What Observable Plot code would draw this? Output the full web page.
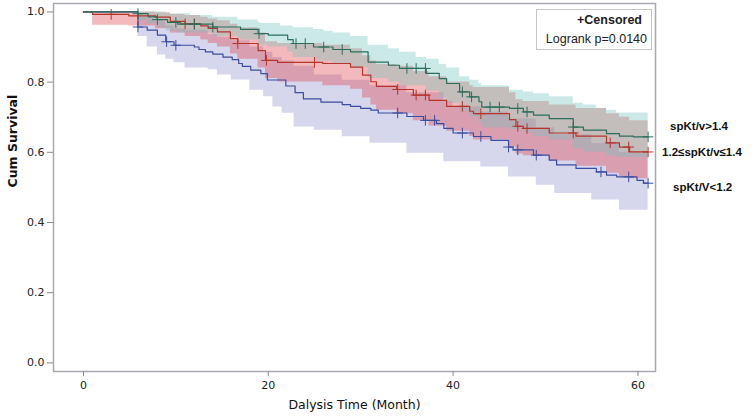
<!DOCTYPE html>
<html>
<head>
<meta charset="utf-8">
<script src="https://cdn.jsdelivr.net/npm/d3@7"></script>
<script src="https://cdn.jsdelivr.net/npm/@observablehq/plot@0.6"></script>
<style>
  body { margin: 0; background: #fff; }
  #chart { position: relative; width: 752px; height: 418px; }
  #legend {
    position: absolute; left: 536px; top: 9px; width: 114px; height: 39px;
    border: 1px solid #c6c6c6; background: #fff;
    font-family: "Liberation Sans", Arial, sans-serif; color: #222;
  }
  #legend .l1 { position: absolute; right: 9px; top: 3px; font-size: 12.5px; font-weight: bold; }
  #legend .l2 { position: absolute; right: 4px; top: 22px; font-size: 12.5px; }
</style>
</head>
<body>
<div id="chart"><div id="legend"><span class="l1">+Censored</span><span class="l2">Logrank p=0.0140</span></div></div>
<script>
// Kaplan-Meier steps: [month, survival]
const grSurv = [[0,1],[5.9,0.995],[7,0.986],[8,0.978],[9.1,0.97],[10.2,0.965],[14,0.957],[17,0.95],[18.9,0.938],[20,0.934],
  [22.1,0.921],[22.7,0.91],[24.9,0.9],[27,0.893],[28.9,0.886],[30.8,0.857],[33,0.848],[34.2,0.839],[37.1,0.825],[38.5,0.81],
  [39.3,0.796],[40.7,0.772],[41.8,0.758],[42.8,0.744],[43.1,0.729],[46.1,0.725],[47.6,0.715],[48.7,0.706],[50.4,0.696],
  [53,0.672],[54.1,0.663],[56.6,0.653],[58,0.646],[59.5,0.644],[61.1,0.644]];
const rdSurv = [[0,1],[1,0.993],[4.9,0.989],[7.8,0.985],[9.4,0.973],[11,0.966],[12.7,0.96],[13.5,0.953],[14.5,0.943],
  [15.9,0.924],[16.7,0.91],[18.9,0.89],[19.7,0.862],[21,0.856],[25.9,0.853],[28.9,0.843],[30.2,0.82],[31.1,0.801],
  [31.7,0.788],[33.9,0.779],[35.7,0.763],[37.4,0.748],[39.3,0.731],[41.8,0.717],[42.2,0.71],[46.1,0.693],[46.8,0.674],
  [47.6,0.668],[50.4,0.655],[53.3,0.646],[56.6,0.627],[58,0.615],[59.1,0.601],[61.1,0.601]];
const blSurv = [[0,1],[5.9,0.957],[6.9,0.948],[8,0.934],[8.9,0.915],[9.8,0.905],[12,0.9],[12.5,0.893],[13.2,0.886],
  [14,0.88],[15.1,0.871],[16.1,0.864],[16.8,0.853],[17.2,0.845],[18.1,0.834],[19.2,0.824],[19.9,0.806],[21.9,0.789],
  [22.9,0.77],[23.8,0.752],[25.7,0.743],[28,0.736],[28.9,0.731],[30,0.725],[31.1,0.72],[31.9,0.712],[35,0.702],
  [36.8,0.691],[38.2,0.682],[39,0.668],[40,0.655],[42.2,0.645],[44.1,0.634],[46,0.615],[46.5,0.607],[48.7,0.592],
  [50.4,0.578],[51.2,0.564],[53.3,0.554],[55.5,0.544],[56.6,0.535],[57.7,0.53],[59.9,0.52],[60.6,0.512],[61.1,0.512]];

// confidence bands: [month, lower, upper]
const grBand = [[5.9,0.975,1],[7,0.965,1],[8,0.955,1],[9,0.945,0.995],[10.2,0.94,0.995],[11.6,0.94,0.99],[14,0.93,0.985],
  [16.7,0.925,0.977],[17,0.92,0.977],[18.9,0.905,0.97],[19.2,0.905,0.967],[20,0.9,0.967],[21.3,0.9,0.96],[22.1,0.885,0.96],
  [22.7,0.87,0.955],[24.9,0.86,0.95],[26,0.86,0.945],[27,0.85,0.94],[28.9,0.84,0.93],[30.8,0.81,0.905],[33,0.8,0.895],
  [34.2,0.79,0.885],[36,0.79,0.87],[37.1,0.775,0.865],[38.5,0.755,0.85],[39.3,0.74,0.84],[40.7,0.715,0.815],
  [41.8,0.7,0.805],[42.8,0.685,0.795],[43.1,0.67,0.79],[46.1,0.665,0.777],[47.6,0.655,0.772],[48.7,0.645,0.767],
  [50.4,0.635,0.758],[53,0.61,0.74],[54.1,0.6,0.735],[55.5,0.6,0.725],[56.6,0.59,0.72],[57.7,0.585,0.712],[61.1,0.585,0.711]];
const rdBand = [[1,0.962,1],[4.9,0.96,1],[7.8,0.952,0.998],[9.4,0.94,0.993],[11,0.93,0.99],[12.7,0.92,0.985],[13.5,0.91,0.98],
  [14.5,0.9,0.975],[15.9,0.88,0.965],[16.7,0.865,0.955],[18.9,0.84,0.94],[19.7,0.81,0.915],[21,0.8,0.91],[25.9,0.79,0.905],
  [28.9,0.78,0.895],[30.2,0.755,0.875],[31.1,0.735,0.86],[31.7,0.72,0.85],[33.9,0.71,0.845],[35.7,0.69,0.83],
  [37.4,0.675,0.815],[39.3,0.66,0.8],[41.8,0.645,0.79],[42.2,0.635,0.785],[46.1,0.615,0.77],[46.8,0.595,0.75],
  [47.6,0.59,0.745],[50.4,0.575,0.735],[53.3,0.56,0.725],[56.6,0.54,0.71],[58,0.53,0.7],[59.1,0.525,0.69],[61.1,0.525,0.69]];
const blBand = [[5.9,0.93,0.985],[6.9,0.9,0.98],[8,0.877,0.972],[8.9,0.865,0.96],[9.8,0.855,0.952],[11,0.84,0.948],
  [13.5,0.835,0.935],[14.5,0.82,0.928],[16,0.806,0.918],[18,0.777,0.9],[19.5,0.758,0.885],[20.5,0.729,0.87],
  [21.5,0.711,0.86],[22.8,0.672,0.845],[25,0.663,0.82],[28,0.644,0.805],[31,0.626,0.79],[35,0.597,0.77],
  [39,0.573,0.745],[40,0.573,0.73],[43,0.558,0.715],[46,0.53,0.695],[49,0.506,0.67],[51,0.483,0.65],
  [55,0.464,0.625],[58,0.435,0.6],[61.1,0.435,0.59]];

// censored times (months)
const grCens = [5.9,8,10,12,14,19,23,24,26,28,35,36,37,41,42,44,45,47,48,53,61.1];
const rdCens = [3,11,12,16.7,19.8,25,34,36,37,41,43,47,48,53,57,59,61.1];
const blCens = [5.9,9,10,34,37,38,41,43,46,47,49,56,59,61.1];

const groups = ["spKt/v>1.4", "1.2≤spKt/v≤1.4", "spKt/V<1.2"];
const xTicks = [0, 20, 40, 60];
const yTicks = [0, 0.2, 0.4, 0.6, 0.8, 1.0];
const xTitle = "Dalysis Time (Month)";
const yTitle = "Cum Survival";

const stepAt = (curve, t) => {
  let v = curve[0][1];
  for (const [ti, si] of curve) if (ti <= t) v = si;
  return v;
};

const series = [
  {surv: blSurv, band: blBand, cens: blCens, line: "#3b4d9e", fill: "#8080c8", op: 0.32, label: groups[2], dx: 25, dy: 4},
  {surv: rdSurv, band: rdBand, cens: rdCens, line: "#b5342b", fill: "#e04850", op: 0.38, label: groups[1], dx: 14, dy: 0},
  {surv: grSurv, band: grBand, cens: grCens, line: "#2b6e5a", fill: "#70c4bc", op: 0.36, label: groups[0], dx: 22, dy: -11}
];

const marks = [];
for (const s of series) {
  marks.push(Plot.areaY(s.band, {x: d => d[0], y1: d => d[1], y2: d => d[2], curve: "step-after", fill: s.fill, fillOpacity: s.op}));
}
for (const s of series) {
  marks.push(Plot.line(s.surv, {x: d => d[0], y: d => d[1], curve: "step-after", stroke: s.line, strokeWidth: 1.2}));
  marks.push(Plot.dot(s.cens.map(t => [t, stepAt(s.surv, t)]), {x: d => d[0], y: d => d[1], symbol: "plus", r: 3.5, stroke: s.line, strokeWidth: 1}));
  const last = s.surv[s.surv.length - 1];
  marks.push(Plot.text([last], {x: d => d[0], y: d => d[1], text: () => s.label, dx: s.dx, dy: s.dy, textAnchor: "start",
    fontFamily: "Liberation Sans, Arial, sans-serif", fontWeight: "bold", fontSize: 11.5, fill: "#111"}));
}

const chart = Plot.plot({
  width: 752,
  height: 418,
  marginLeft: 53,
  marginRight: 97,
  marginTop: 3,
  marginBottom: 47,
  style: {fontFamily: "'DejaVu Sans', sans-serif", fontSize: "11px", color: "#222", background: "#fff"},
  x: {domain: [-3.24, 61.9]},
  y: {domain: [-0.0245, 1.024]},
  marks: [
    ...marks,
    Plot.frame({stroke: "#a9a9b1", strokeWidth: 1.5}),
    Plot.axisX({ticks: xTicks, tickSize: 5, tickPadding: 5, label: null, stroke: "#8a8a8a"}),
    Plot.axisY({ticks: yTicks, tickFormat: d3.format(".1f"), tickSize: 6, tickPadding: 3, label: null, stroke: "#8a8a8a"}),
    Plot.text([xTitle], {frameAnchor: "bottom", dy: 37, text: d => d, fontSize: 12.5, fill: "#111"}),
    Plot.text([yTitle], {frameAnchor: "left", dx: -41, rotate: -90, text: d => d, fontSize: 12.5, fontWeight: "bold", fill: "#111"})
  ]
});
document.getElementById("chart").prepend(chart);
</script>
</body>
</html>
